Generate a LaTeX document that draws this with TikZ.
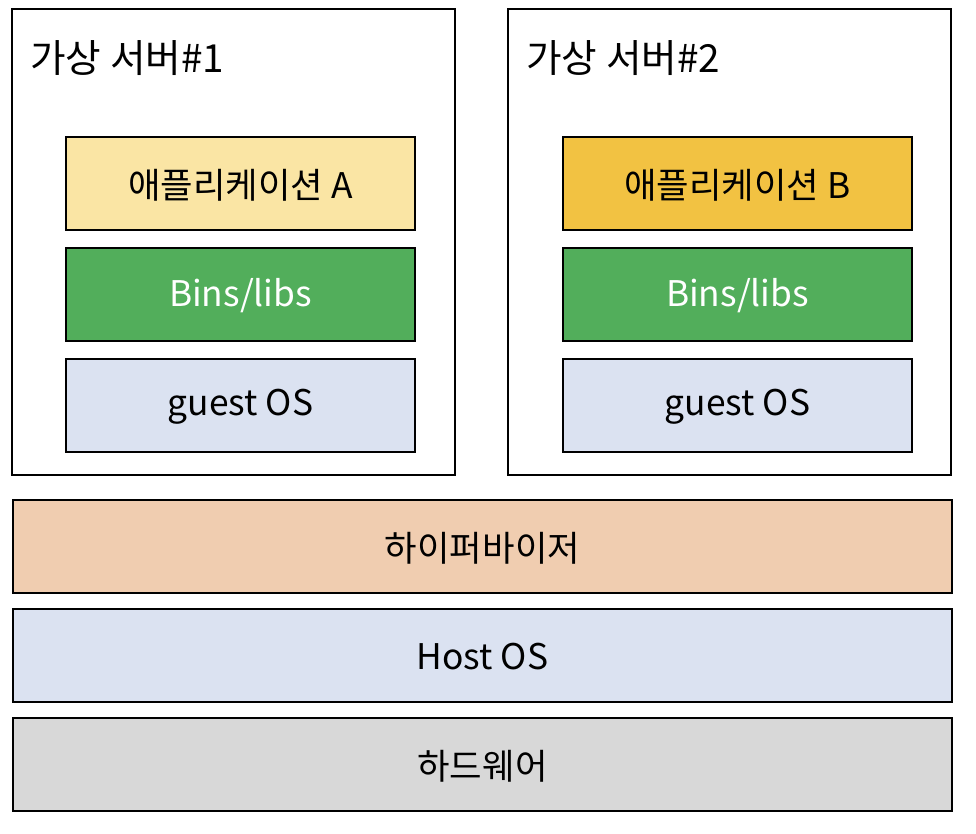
\documentclass[tikz,border=0pt]{standalone}
\usepackage{fontspec}
\setmainfont{Noto Sans CJK KR}
\definecolor{appA}{HTML}{FAE5A4}
\definecolor{appB}{HTML}{F2C242}
\definecolor{binsg}{HTML}{52AE5B}
\definecolor{osblue}{HTML}{DBE2F1}
\definecolor{hyper}{HTML}{F0CDB0}
\definecolor{hw}{HTML}{D8D8D8}
\newcommand{\lf}{\fontsize{26.5}{30}\selectfont}
\tikzset{
  layer/.style={draw=black, line width=1.5pt, anchor=north west, inner sep=0pt},
  vmbox/.style={draw=black, line width=1.5pt},
  ttl/.style={anchor=west, inner sep=0pt, font=\fontsize{29}{34}\selectfont},
}
\begin{document}
\begin{tikzpicture}[x=0.75pt,y=-0.75pt]
\useasboundingbox (0,0) rectangle (976,834);
% virtual servers
\draw[vmbox] (12,9) rectangle (455,475);
\draw[vmbox] (508,9) rectangle (951,475);
\node[ttl] (t1) at (30,58) {가상 서버\#1};
\node[ttl] (t2) at (526,58) {가상 서버\#2};
% left stack
\node[layer, fill=appA, minimum width=349*0.75pt, minimum height=93*0.75pt] (a1) at (65,136) {};
\node at ([yshift=-1pt]a1.center) {\lf 애플리케이션 A};
\node[layer, fill=binsg, minimum width=349*0.75pt, minimum height=93*0.75pt] (b1) at (65,247) {};
\node[text=white] at ([yshift=-1pt]b1.center) {\lf Bins/libs};
\node[layer, fill=osblue, minimum width=349*0.75pt, minimum height=93*0.75pt] (g1) at (65,358) {};
\node at ([yshift=-1pt]g1.center) {\lf guest OS};
% right stack
\node[layer, fill=appB, minimum width=349*0.75pt, minimum height=93*0.75pt] (a2) at (562,136) {};
\node at ([yshift=-1pt]a2.center) {\lf 애플리케이션 B};
\node[layer, fill=binsg, minimum width=349*0.75pt, minimum height=93*0.75pt] (b2) at (562,247) {};
\node[text=white] at ([yshift=-1pt]b2.center) {\lf Bins/libs};
\node[layer, fill=osblue, minimum width=349*0.75pt, minimum height=93*0.75pt] (g2) at (562,358) {};
\node at ([yshift=-1pt]g2.center) {\lf guest OS};
% base layers
\node[layer, fill=hyper, minimum width=939*0.75pt, minimum height=93*0.75pt] (hv) at (12,499) {};
\node at ([yshift=-1pt]hv.center) {\lf 하이퍼바이저};
\node[layer, fill=osblue, minimum width=939*0.75pt, minimum height=93*0.75pt] (ho) at (12,608) {};
\node at ([yshift=-1pt]ho.center) {\lf Host OS};
\node[layer, fill=hw, minimum width=939*0.75pt, minimum height=93*0.75pt] (hd) at (12,717) {};
\node at ([yshift=-1pt]hd.center) {\lf 하드웨어};
\end{tikzpicture}
\end{document}
